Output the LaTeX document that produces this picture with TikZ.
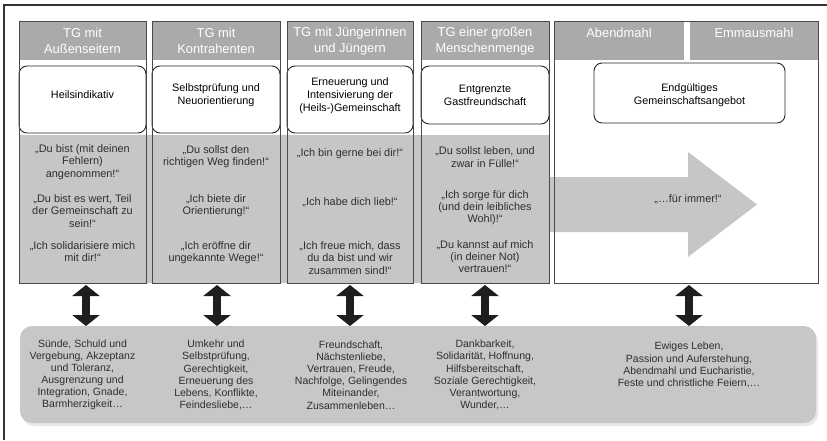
\documentclass[tikz,border=0pt]{standalone}
\usepackage{fontspec}
\setmainfont{Liberation Sans}
\usetikzlibrary{arrows.meta,shadows}
\definecolor{hdrgray}{HTML}{A9AAAC}
\definecolor{bandgray}{HTML}{C5C6C8}
\definecolor{botgray}{HTML}{C6C7C9}
\definecolor{bordercol}{HTML}{4A4A4A}
\definecolor{txt}{HTML}{2E2E2E}
\definecolor{arrowcol}{HTML}{1E1E1E}
\begin{document}
\begin{tikzpicture}[x=1pt,y=-1pt,
  colbox/.style={draw=bordercol, line width=0.9pt, inner sep=0pt, outer sep=0pt, minimum height=262pt},
  hdr/.style={fill=hdrgray, inner sep=0pt, outer sep=0pt, minimum height=39pt},
  hdrtext/.style={text=white, align=center, inner sep=0pt, font=\fontsize{12.9}{15.6}\selectfont},
  midbox/.style={draw=black!85, line width=0.9pt, fill=white, rounded corners=8pt, inner sep=0pt, outer sep=0pt},
  midtext/.style={text=black, align=center, inner sep=0pt, font=\fontsize{10.8}{12.8}\selectfont},
  quotetext/.style={text=txt, align=center, inner sep=0pt, font=\fontsize{10.9}{12.3}\selectfont},
  bottext/.style={text=txt, align=center, inner sep=0pt, font=\fontsize{10.5}{12.1}\selectfont},
  dblarrow/.style={draw=arrowcol, line width=7.5pt, {Triangle[length=11pt,width=27pt]}-{Triangle[length=11pt,width=27pt]}, shorten <=2pt},
  framebar/.style={draw=black!80, line width=2pt}
]
\useasboundingbox (0,0) rectangle (827,440);

% outer frame (left and top edges)
\coordinate (fa) at (3.5,440);
\coordinate (fb) at (3.5,4.5);
\coordinate (fc) at (827,4.5);
\draw[framebar] (fa) -- (fb) -- (fc);

% bottom rounded box
\node[fill=botgray, rounded corners=12pt, minimum width=796pt, minimum height=97pt, inner sep=0pt, outer sep=0pt,
      drop shadow={shadow xshift=2pt, shadow yshift=-3pt, opacity=0.18}] (bottom) at (418,374.5) {};

% gray band with arrow
\fill[bandgray] (19,135) -- (549,135) -- (549,177) -- (688,177) -- (688,152) -- (757,204.5)
  -- (688,257) -- (688,232) -- (549,232) -- (549,283) -- (19,283) -- cycle;

% headers
\node[hdr, minimum width=127pt] (h1) at (82.5,40.5) {};
\node[hdr, minimum width=128pt] (h2) at (216,40.5) {};
\node[hdr, minimum width=126pt] (h3) at (350,40.5) {};
\node[hdr, minimum width=128pt] (h4) at (485,40.5) {};
\node[hdr, minimum width=130pt] (h5a) at (619,40.5) {};
\node[hdr, minimum width=128pt] (h5b) at (754,40.5) {};

\node[hdrtext] (ht1) at (82.5,41) {TG mit\\Außenseitern};
\node[hdrtext] (ht2) at (216,41) {TG mit\\Kontrahenten};
\node[hdrtext] (ht3) at (350,41) {TG mit Jüngerinnen\\und Jüngern};
\node[hdrtext] (ht4) at (485,41) {TG einer großen\\Menschenmenge};
\node[hdrtext] (ht5a) at (619,33) {Abendmahl};
\node[hdrtext] (ht5b) at (754,33) {Emmausmahl};

% middle boxes
\node[midbox, minimum width=127pt, minimum height=67pt] (b1) at (82.5,99.5) {};
\node[midbox, minimum width=128pt, minimum height=67pt] (b2) at (216,99.5) {};
\node[midbox, minimum width=126pt, minimum height=67pt] (b3) at (350,99.5) {};
\node[midbox, minimum width=128pt, minimum height=58pt] (b4) at (485,95) {};
\node[midbox, minimum width=191pt, minimum height=60pt] (b5) at (689.5,93) {};

\node[midtext] (m1) at (82.5,95) {Heilsindikativ};
\node[midtext] (m2) at (216,95.5) {Selbstprüfung und\\Neuorientierung};
\node[midtext] (m3) at (350,95.5) {Erneuerung und\\Intensivierung der\\(Heils-)Gemeinschaft};
\node[midtext] (m4) at (485,95.5) {Entgrenzte\\Gastfreundschaft};
\node[midtext] (m5) at (689.5,95.5) {Endgültiges\\Gemeinschaftsangebot};

% quotes
\node[quotetext] (q11) at (82.5,162) {„Du bist (mit deinen\\Fehlern)\\angenommen!“};
\node[quotetext] (q12) at (82.5,211) {„Du bist es wert, Teil\\der Gemeinschaft zu\\sein!“};
\node[quotetext] (q13) at (82.5,251.5) {„Ich solidarisiere mich\\mit dir!“};

\node[quotetext] (q21) at (216,157) {„Du sollst den\\richtigen Weg finden!“};
\node[quotetext] (q22) at (216,206) {„Ich biete dir\\Orientierung!“};
\node[quotetext] (q23) at (216,252.5) {„Ich eröffne dir\\ungekannte Wege!“};

\node[quotetext] (q31) at (350,153.5) {„Ich bin gerne bei dir!“};
\node[quotetext] (q32) at (350,202.5) {„Ich habe dich lieb!“};
\node[quotetext] (q33) at (350,258) {„Ich freue mich, dass\\du da bist und wir\\zusammen sind!“};

\node[quotetext] (q41) at (485,157) {„Du sollst leben, und\\zwar in Fülle!“};
\node[quotetext] (q42) at (485,207.5) {„Ich sorge für dich\\(und dein leibliches\\Wohl)!“};
\node[quotetext] (q43) at (485,256.5) {„Du kannst auf mich\\(in deiner Not)\\vertrauen!“};

\node[quotetext] (q5) at (688,199.5) {„…für immer!“};

% column frames
\node[colbox, minimum width=127pt] (c1) at (82.5,152) {};
\node[colbox, minimum width=128pt] (c2) at (216,152) {};
\node[colbox, minimum width=126pt] (c3) at (350,152) {};
\node[colbox, minimum width=128pt] (c4) at (485,152) {};
\node[colbox, minimum width=264pt] (c5) at (686,152) {};

% bottom texts
\node[bottext] (t1) at (82.5,375) {Sünde, Schuld und\\Vergebung, Akzeptanz\\und Toleranz,\\Ausgrenzung und\\Integration, Gnade,\\Barmherzigkeit…};
\node[bottext] (t2) at (216,375) {Umkehr und\\Selbstprüfung,\\Gerechtigkeit,\\Erneuerung des\\Lebens, Konflikte,\\Feindesliebe,…};
\node[bottext] (t3) at (351,375) {Freundschaft,\\Nächstenliebe,\\Vertrauen, Freude,\\Nachfolge, Gelingendes\\Miteinander,\\Zusammenleben…};
\node[bottext] (t4) at (485,375) {Dankbarkeit,\\Solidarität, Hoffnung,\\Hilfsbereitschaft,\\Soziale Gerechtigkeit,\\Verantwortung,\\Wunder,…};
\node[bottext] (t5) at (689,365) {Ewiges Leben,\\Passion und Auferstehung,\\Abendmahl und Eucharistie,\\Feste und christliche Feiern,…};

% double arrows
\draw[dblarrow] ([xshift=3.5pt]c1.south) -- ([xshift=3.5pt]c1.south |- bottom.north);
\draw[dblarrow] ([xshift=1pt]c2.south) -- ([xshift=1pt]c2.south |- bottom.north);
\draw[dblarrow] (c3.south) -- (c3.south |- bottom.north);
\draw[dblarrow] (c4.south) -- (c4.south |- bottom.north);
\draw[dblarrow] ([xshift=3pt]c5.south) -- ([xshift=3pt]c5.south |- bottom.north);
\end{tikzpicture}
\end{document}
